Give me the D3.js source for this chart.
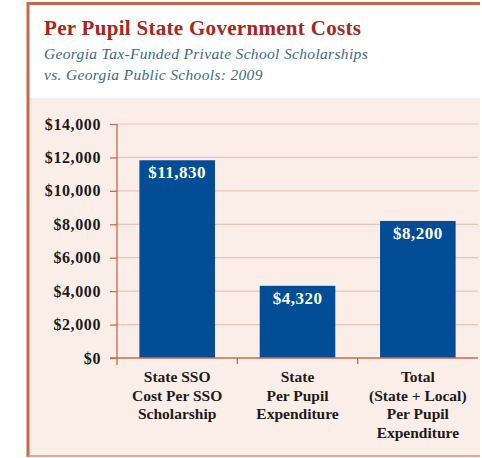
<!DOCTYPE html>
<html>
<head>
<meta charset="utf-8">
<script src="https://cdn.jsdelivr.net/npm/d3@7"></script>
<style>
  body { margin: 0; background: #fff; }
  svg { display: block; }
</style>
</head>
<body>
<div id="chart"></div>
<script>
var categories = [
  ["State SSO", "Cost Per SSO", "Scholarship"],
  ["State", "Per Pupil", "Expenditure"],
  ["Total", "(State + Local)", "Per Pupil", "Expenditure"]
];
var values = [11830, 4320, 8200];
var yTicks = [0, 2000, 4000, 6000, 8000, 10000, 12000, 14000];

var W = 482, H = 458;
var serif = "'Liberation Serif', 'Times New Roman', serif";

var svg = d3.select("#chart").append("svg")
  .attr("width", W)
  .attr("height", H);

// frame
svg.append("rect").attr("x", 29).attr("y", 4).attr("width", 451).attr("height", 95).attr("fill", "#fff");
svg.append("rect").attr("x", 29).attr("y", 98).attr("width", 451).attr("height", 358).attr("fill", "#fbeee8");
svg.append("line").attr("x1", 28).attr("x2", 480).attr("y1", 3.5).attr("y2", 3.5)
  .attr("stroke", "#c8674a").attr("stroke-width", 3);
svg.append("line").attr("x1", 28).attr("x2", 28).attr("y1", 2).attr("y2", 457)
  .attr("stroke", "#c8674a").attr("stroke-width", 3);
svg.append("line").attr("x1", 28).attr("x2", 480).attr("y1", 456).attr("y2", 456)
  .attr("stroke", "#d98a70").attr("stroke-width", 1.5);

// titles
svg.append("text").attr("x", 44).attr("y", 35)
  .attr("font-family", serif).attr("font-weight", "bold").attr("font-size", 21)
  .attr("letter-spacing", 0.3)
  .attr("fill", "#a8261b")
  .text("Per Pupil State Government Costs");
var sub = svg.append("text")
  .attr("font-family", serif).attr("font-style", "italic").attr("font-size", 15.5)
  .attr("letter-spacing", 0.33)
  .attr("fill", "#3b6c88");
sub.append("tspan").attr("x", 44).attr("y", 59).text("Georgia Tax-Funded Private School Scholarships");
sub.append("tspan").attr("x", 44).attr("y", 80).text("vs. Georgia Public Schools: 2009");

// scales
var x = d3.scaleBand()
  .domain(d3.range(values.length))
  .range([117, 478])
  .padding(0);
var y = d3.scaleLinear()
  .domain([0, 14000])
  .range([358, 124]);

var axisColor = "#c96a4e";

// gridlines
svg.append("g").selectAll("line")
  .data(yTicks.filter(function(d) { return d > 0; }))
  .enter().append("line")
  .attr("x1", 117).attr("x2", 478)
  .attr("y1", function(d) { return y(d); })
  .attr("y2", function(d) { return y(d); })
  .attr("stroke", "#efc3b3")
  .attr("stroke-width", 1.2);

// y axis
var yAxis = svg.append("g")
  .attr("transform", "translate(117,0)")
  .call(d3.axisLeft(y)
    .tickValues(yTicks)
    .tickSize(7)
    .tickPadding(9)
    .tickFormat(function(d) { return "$" + d3.format(",")(d); }));
yAxis.select(".domain").remove();
yAxis.selectAll(".tick line").attr("stroke", axisColor).attr("stroke-width", 1.3);
yAxis.selectAll(".tick text")
  .attr("font-family", serif).attr("font-weight", "bold").attr("font-size", 16)
  .attr("letter-spacing", 0.6)
  .attr("fill", "#1e1a1a");
svg.append("line").attr("x1", 117).attr("x2", 117).attr("y1", y(14000)).attr("y2", 365)
  .attr("stroke", axisColor).attr("stroke-width", 1.3);

// bars
var barW = x.bandwidth() * 0.628;
svg.append("g").selectAll("rect")
  .data(values)
  .enter().append("rect")
  .attr("x", function(d, i) { return x(i) + (x.bandwidth() - barW) / 2; })
  .attr("y", function(d) { return y(d); })
  .attr("width", barW)
  .attr("height", function(d) { return y(0) - y(d); })
  .attr("fill", "#034c96");

svg.append("g").selectAll("text")
  .data(values)
  .enter().append("text")
  .attr("x", function(d, i) { return x(i) + x.bandwidth() / 2; })
  .attr("y", function(d) { return y(d) + 18; })
  .attr("text-anchor", "middle")
  .attr("font-family", serif).attr("font-weight", "bold").attr("font-size", 17)
  .attr("letter-spacing", 0.5)
  .attr("fill", "#fff")
  .text(function(d) { return "$" + d3.format(",")(d); });

// x axis
svg.append("line").attr("x1", 110).attr("x2", 478).attr("y1", y(0)).attr("y2", y(0))
  .attr("stroke", axisColor).attr("stroke-width", 1.3);
svg.append("g").selectAll("line")
  .data(d3.range(1, values.length))
  .enter().append("line")
  .attr("x1", function(i) { return x(i); })
  .attr("x2", function(i) { return x(i); })
  .attr("y1", y(0)).attr("y2", y(0) + 6)
  .attr("stroke", axisColor).attr("stroke-width", 1.3);

var xl = svg.append("g").selectAll("text")
  .data(categories)
  .enter().append("text")
  .attr("text-anchor", "middle")
  .attr("font-family", serif).attr("font-weight", "bold").attr("font-size", 15.5)
  .attr("fill", "#1e1a1a");
xl.selectAll("tspan")
  .data(function(d, i) { return d.map(function(s) { return { s: s, i: i }; }); })
  .enter().append("tspan")
  .attr("x", function(d) { return x(d.i) + x.bandwidth() / 2; })
  .attr("y", function(d, j) { return 382 + j * 18.7; })
  .text(function(d) { return d.s; });
</script>
</body>
</html>
